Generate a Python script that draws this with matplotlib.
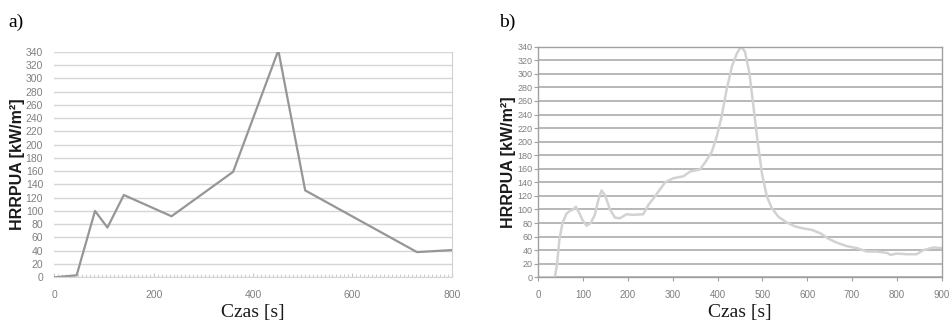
import matplotlib
matplotlib.use("Agg")
import matplotlib.pyplot as plt
from matplotlib.ticker import MultipleLocator

# Panel a) data
time_a = [0, 45, 82, 107, 140, 236, 360, 451, 505, 730, 800]
hrr_a = [0, 3, 100, 75, 124, 92, 159, 342, 131, 38, 41]

# Panel b) data
time_b = [0, 7, 26, 37, 42, 47, 54, 63, 71, 78, 84, 92, 99, 108, 117, 126, 134, 141,
          149, 160, 171, 182, 197, 212, 234, 246, 260, 283, 301, 324, 339, 361, 376,
          387, 398, 409, 420, 432, 443, 452, 461, 471, 480, 489, 499, 510, 521, 536,
          554, 573, 592, 610, 629, 647, 666, 688, 711, 733, 755, 778, 786, 800, 822,
          844, 859, 882, 900]
hrr_b = [1, 0, 0, 0, 20, 55, 80, 94, 98, 100, 104, 94, 84, 76, 80, 92, 114, 128,
         121, 100, 88, 87, 93, 92, 93, 107, 119, 140, 146, 149, 156, 159, 173,
         185, 207, 237, 276, 311, 330, 340, 333, 301, 252, 202, 153, 119, 102, 89,
         81, 75, 72, 70, 65, 57, 51, 46, 43, 38, 38, 36, 33, 35, 34,
         34, 40, 44, 43]

y_ticks = list(range(0, 341, 20))
x_ticks_a = [0, 200, 400, 600, 800]
x_ticks_b = list(range(0, 901, 100))

fig = plt.figure(figsize=(9.49, 3.26), dpi=100)

ylab_font = dict(family="Liberation Sans", size=11.5, weight="bold", color="#1a1a1a")
xlab_font = dict(family="Liberation Serif", size=14, color="#1a1a1a")

# ---------- Panel a ----------
axa = fig.add_axes([0.0572, 0.1494, 0.4188, 0.692])
axa.plot(time_a, hrr_a, color="#969696", lw=1.6)
axa.set_xlim(0, 800)
axa.set_ylim(0, 340)
axa.set_yticks(y_ticks)
axa.set_xticks(x_ticks_a)
axa.xaxis.set_minor_locator(MultipleLocator(8))
axa.grid(axis="y", color="#d6d6d6", lw=1.0)
axa.set_axisbelow(True)
for s in ["top", "left"]:
    axa.spines[s].set_visible(False)
axa.spines["right"].set_color("#d0d0d0")
axa.spines["bottom"].set_color("#d6d6d6")
axa.tick_params(axis="y", length=0, pad=8)
axa.tick_params(axis="x", which="major", length=3, direction="in", color="#c8c8c8", pad=9)
axa.tick_params(axis="x", which="minor", length=2, direction="in", color="#c8c8c8")
for lab in axa.get_xticklabels() + axa.get_yticklabels():
    lab.set_fontfamily("Liberation Sans")
    lab.set_fontsize(7.5)
    lab.set_color("#808080")
yla = axa.set_ylabel("HRRPUA [kW/m²]", fontdict=ylab_font)
yla.set_va("center")
axa.yaxis.set_label_coords(-0.0915, 0.5)
axa.set_xlabel("Czas [s]", fontdict=xlab_font, labelpad=3)

# ---------- Panel b ----------
axb = fig.add_axes([0.5672, 0.1494, 0.4251, 0.7074])
axb.plot(time_b, hrr_b, color="#d2d2d2", lw=1.8)
axb.set_xlim(0, 900)
axb.set_ylim(0, 340)
axb.set_yticks(y_ticks)
axb.set_xticks(x_ticks_b)
axb.grid(axis="y", color="#acacac", lw=1.2)
axb.set_axisbelow(True)
for s in axb.spines.values():
    s.set_color("#a0a0a0")
    s.set_linewidth(1.0)
axb.tick_params(axis="y", length=3, color="#a0a0a0", pad=1)
axb.tick_params(axis="x", length=3, color="#a0a0a0", pad=6)
for lab in axb.get_yticklabels():
    lab.set_fontfamily("Liberation Sans")
    lab.set_fontsize(6.5)
    lab.set_color("#7f7f7f")
for lab in axb.get_xticklabels():
    lab.set_fontfamily("Liberation Sans")
    lab.set_fontsize(7)
    lab.set_color("#7f7f7f")
ylb = axb.set_ylabel("HRRPUA [kW/m²]", fontdict=ylab_font)
ylb.set_va("center")
axb.yaxis.set_label_coords(-0.074, 0.5)
axb.set_xlabel("Czas [s]", fontdict=xlab_font, labelpad=3)

fig.text(8 / 949, 1 - 22 / 326, "a)", family="Liberation Serif", size=14, va="center", ha="left")
fig.text(499 / 949, 1 - 22 / 326, "b)", family="Liberation Serif", size=14, va="center", ha="left")

fig.savefig("out.png", dpi=100)
